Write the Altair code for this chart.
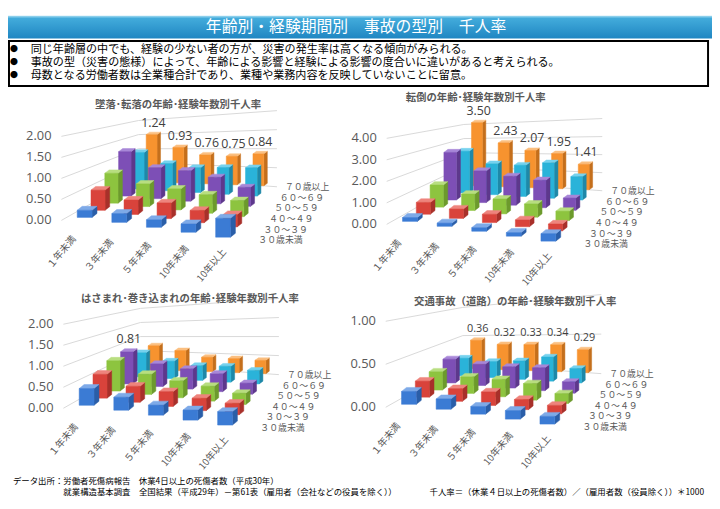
import altair as alt
import pandas as pd

# ---------------- data ----------------
EXPERIENCE = ["１年未満", "３年未満", "５年未満", "10年未満", "10年以上"]
AGES = ["３０歳未満", "３０～３９", "４０～４９", "５０～５９", "６０～６９", "７０歳以上"]
TITLES = [
    "墜落･転落の年齢･経験年数別千人率",
    "転倒の年齢･経験年数別千人率",
    "はさまれ･巻き込まれの年齢･経験年数別千人率",
    "交通事故（道路）の年齢･経験年数別千人率",
]

# rows = age groups (30歳未満 ... 70歳以上), columns = experience
FALL = [
    [0.17, 0.21, 0.18, 0.20, 0.45],
    [0.49, 0.35, 0.38, 0.30, 0.30],
    [0.74, 0.56, 0.52, 0.46, 0.40],
    [1.12, 0.78, 0.77, 0.67, 0.48],
    [0.94, 0.70, 0.64, 0.69, 0.73],
    [1.24, 0.93, 0.76, 0.75, 0.84],
]
TUMBLE = [
    [0.18, 0.15, 0.17, 0.17, 0.35],
    [0.57, 0.45, 0.40, 0.33, 0.33],
    [1.10, 0.82, 0.74, 0.66, 0.47],
    [2.45, 1.63, 1.49, 1.42, 0.63],
    [2.23, 1.65, 1.67, 1.89, 1.25],
    [3.50, 2.43, 2.07, 1.95, 1.41],
]
CAUGHT = [
    [0.40, 0.31, 0.24, 0.24, 0.32],
    [0.58, 0.39, 0.36, 0.30, 0.28],
    [0.75, 0.50, 0.42, 0.37, 0.28],
    [0.81, 0.57, 0.51, 0.45, 0.28],
    [0.62, 0.45, 0.38, 0.41, 0.35],
    [0.63, 0.53, 0.38, 0.37, 0.35],
]
TRAFFIC = [
    [0.15, 0.12, 0.09, 0.10, 0.09],
    [0.19, 0.15, 0.16, 0.12, 0.10],
    [0.22, 0.20, 0.21, 0.20, 0.12],
    [0.29, 0.26, 0.26, 0.28, 0.14],
    [0.22, 0.20, 0.23, 0.30, 0.18],
    [0.36, 0.32, 0.33, 0.34, 0.29],
]
PANELS = [FALL, TUMBLE, CAUGHT, TRAFFIC]
AXIS_MAX = [2, 4, 2, 1]
TICKS = [[0, 0.5, 1, 1.5, 2], [0, 1, 2, 3, 4], [0, 0.5, 1, 1.5, 2], [0, 0.5, 1]]
LABEL_AGE = [5, 5, 3, 5]
LABEL_EXP = [[0, 1, 2, 3, 4], [0, 1, 2, 3, 4], [0], [0, 1, 2, 3, 4]]

BULLETS = [
    "同じ年齢層の中でも、経験の少ない者の方が、災害の発生率は高くなる傾向がみられる。",
    "事故の型（災害の態様）によって、年齢による影響と経験による影響の度合いに違いがあると考えられる。",
    "母数となる労働者数は全業種合計であり、業種や業務内容を反映していないことに留意。",
]
MAIN_TITLE = "年齢別・経験期間別　事故の型別　千人率"
SOURCE1 = "データ出所：労働者死傷病報告　休業4日以上の死傷者数（平成30年）"
SOURCE2 = "就業構造基本調査　全国結果（平成29年）－第61表（雇用者（会社などの役員を除く））"
FORMULA = "千人率＝（休業４日以上の死傷者数）／（雇用者数（役員除く））＊1000"

rows = []
for p, table in enumerate(PANELS):
    for j, series in enumerate(table):
        for i, v in enumerate(series):
            rows.append(dict(panel=p, i=i, j=j, value=v, exp=EXPERIENCE[i], age=AGES[j],
                             lab=int(j == LABEL_AGE[p] and i in LABEL_EXP[p])))
bars = pd.DataFrame(rows)
ticks = pd.DataFrame([dict(panel=p, v=v) for p, tl in enumerate(TICKS) for v in tl])

# ---------------- layout / style ----------------
OX = [0, 329, 2, 328]
OY = [0, 4, 190, 189]
FRONT_H = [85, 87, 85, 87]
BACK_H = [77, 73, 77, 80]
FRONT = ["#3b7bd4", "#d9433b", "#8dc43f", "#7d4fb6", "#2ab3d9", "#f7932f"]
TOP = ["#7eaae8", "#ee847d", "#b8de80", "#a887d8", "#76d2ee", "#fbbf80"]
SIDE = ["#2a5ea8", "#a8302a", "#6c9a2c", "#5d388c", "#1e88a8", "#c46f1c"]
CJK = "Noto Sans CJK JP"
NUM = "Open Sans"

XS = alt.Scale(domain=[8, 720], nice=False, zero=False)
YS = alt.Scale(domain=[8, 501], nice=False, zero=False, reverse=True)


def X(f):
    return alt.X(f"{f}:Q", scale=XS, axis=None)


def Y(f):
    return alt.Y(f"{f}:Q", scale=YS, axis=None)


def pick(vals):
    s = str(vals[-1])
    for k in range(len(vals) - 2, -1, -1):
        s = f"(datum.panel=={k}?{vals[k]}:{s})"
    return s


geo = alt.Chart(bars).transform_calculate(
    u="datum.i/4",
    w="datum.j/5",
).transform_calculate(
    cx=f"{pick(OX)}+(88+140*datum.u)*(1-datum.w)+(155+108*datum.u)*datum.w",
    by=f"{pick(OY)}+(217+20*datum.u)*(1-datum.w)+(181+4*datum.u)*datum.w",
    h=f"datum.value*({pick(FRONT_H)}*(1-datum.w)+{pick(BACK_H)}*datum.w)/{pick(AXIS_MAX)}",
    fw="15*(1-datum.w)+11*datum.w",
    ddx="5*(1-datum.w)+3.5*datum.w",
    ddy="4*(1-datum.w)+2.5*datum.w",
).transform_calculate(
    xl="datum.cx-datum.fw/2-datum.ddx/2",
).transform_calculate(
    xr="datum.xl+datum.fw",
    yt="datum.by-datum.h",
)

layers = []

# gridlines (perspective walls)
grid = alt.Chart(ticks).transform_calculate(
    f=f"datum.v/{pick(AXIS_MAX)}",
    kk="[0,1,2]",
).transform_flatten(["kk"]).transform_calculate(
    gx=f"{pick(OX)}+(datum.kk==0?62:(datum.kk==1?140:280))",
    gy=f"{pick(OY)}+(datum.kk==0?220-{pick(FRONT_H)}*datum.f:(datum.kk==1?176-57*datum.f:186-{pick(BACK_H)}*datum.f))",
).mark_line(color="#d9d9d9", strokeWidth=1).encode(
    x=X("gx"), y=Y("gy"), detail=["panel:N", "v:Q"], order="kk:Q"
)
layers.append(grid)

ticklab = alt.Chart(ticks).transform_calculate(
    f=f"datum.v/{pick(AXIS_MAX)}",
).transform_calculate(
    tx=f"{pick(OX)}+52",
    ty=f"{pick(OY)}+220-{pick(FRONT_H)}*datum.f",
).mark_text(align="right", baseline="middle", font=NUM, fontSize=13, color="#595959").encode(
    x=X("tx"), y=Y("ty"), text=alt.Text("v:Q", format=".2f")
)
layers.append(ticklab)

# bars, back row first
for j in range(5, -1, -1):
    row = geo.transform_filter(f"datum.j=={j}")
    side = row.transform_calculate(kk="[0,1]").transform_flatten(["kk"]).transform_calculate(
        xs="datum.xr+datum.ddx*datum.kk",
        ys1="datum.yt-datum.ddy*datum.kk",
        ys2="datum.by-datum.ddy*datum.kk",
    ).mark_area(orient="vertical", color=SIDE[j], stroke=SIDE[j], strokeWidth=0.5).encode(
        x=X("xs"), y=Y("ys1"), y2="ys2:Q", detail=["panel:N", "i:N"]
    )
    top = row.transform_calculate(kk="[0,1]").transform_flatten(["kk"]).transform_calculate(
        ya="datum.yt-datum.ddy*datum.kk",
        xa="datum.xl+datum.ddx*datum.kk",
        xb="datum.xr+datum.ddx*datum.kk",
    ).mark_area(orient="horizontal", color=TOP[j], stroke=TOP[j], strokeWidth=0.5).encode(
        y=Y("ya"), x=X("xa"), x2="xb:Q", detail=["panel:N", "i:N"]
    )
    front = row.mark_rect(color=FRONT[j], stroke=FRONT[j], strokeWidth=0.5).encode(
        x=X("xl"), x2="xr:Q", y=Y("yt"), y2="by:Q"
    )
    layers += [side, top, front]

# data labels
labels = geo.transform_filter("datum.lab==1").transform_calculate(
    fs="datum.panel==3?11:12.5",
).transform_calculate(
    lx="datum.xl+datum.fw/2+datum.ddx/2",
    ly="datum.yt-datum.ddy-(datum.panel==3?9:9.5)",
).mark_text(font=NUM, color="#404040", baseline="middle").encode(
    x=X("lx"), y=Y("ly"), text=alt.Text("value:Q", format=".2f"),
    size=alt.Size("fs:Q", scale=None),
)
layers.append(labels)

# experience (category) labels along the front edge
catlab = geo.transform_filter("datum.j==0").transform_calculate(
    tx="datum.cx-13+12*datum.u",
    ty="datum.by+20-7*datum.u",
).mark_text(angle=310, align="right", baseline="middle", font=CJK, fontSize=9.8, color="#595959").encode(
    x=X("tx"), y=Y("ty"), text="exp:N"
)
layers.append(catlab)

# age (series) labels on the right
agelab = geo.transform_filter("datum.i==4").transform_calculate(
    ax=f"{pick(OX)}+306*(1-datum.w)+333*datum.w",
    ay=f"{pick(OY)}+240*(1-datum.w)+186.5*datum.w",
).mark_text(align="right", baseline="middle", font=CJK, fontSize=9, color="#595959").encode(
    x=X("ax"), y=Y("ay"), text="age:N"
)
layers.append(agelab)

one = alt.Data(values=[{"k": 0}])


def px(v):
    return alt.value(v - 8)


# banner
banner = alt.Chart(one).mark_rect(
    fill={"gradient": "linear", "x1": 0, "y1": 0, "x2": 0, "y2": 1,
          "stops": [{"offset": 0, "color": "#a8ddf2"}, {"offset": 0.12, "color": "#42abdb"},
                    {"offset": 1, "color": "#1f86c2"}]}
).encode(x=px(8), x2=px(720), y=px(13), y2=px(36))
layers.append(banner)
layers.append(alt.Chart(one).mark_text(text=MAIN_TITLE, font=CJK, fontSize=16, color="white",
                                       align="center", baseline="middle").encode(x=px(360), y=px(24.5)))

# note box
layers.append(alt.Chart(one).mark_rect(fill="white", stroke="black", strokeWidth=2).encode(
    x=px(9), x2=px(716), y=px(38.5), y2=px(84)))
for k, line in enumerate(BULLETS):
    yy = 47.5 + 13.3 * k
    layers.append(alt.Chart(one).mark_text(text="●", font=CJK, fontSize=8, color="black",
                                           align="center", baseline="middle").encode(x=px(14), y=px(yy)))
    layers.append(alt.Chart(one).mark_text(text=line, font=CJK, fontSize=11.2, color="black",
                                           align="left", baseline="middle").encode(x=px(31), y=px(yy)))

# panel titles
TITLE_POS = [(180, 103), (481, 96), (192, 300), (521, 303)]
for t, (tx, ty) in zip(TITLES, TITLE_POS):
    layers.append(alt.Chart(one).mark_text(text=t, font=CJK, fontSize=10.5, fontWeight="bold",
                                           color="#595959", align="center", baseline="middle").encode(
        x=px(tx), y=px(ty)))

# footer
layers.append(alt.Chart(one).mark_text(text=SOURCE1, font=CJK, fontSize=8.5, color="black",
                                       align="left", baseline="middle").encode(x=px(13), y=px(484)))
layers.append(alt.Chart(one).mark_text(text=SOURCE2, font=CJK, fontSize=8.5, color="black",
                                       align="left", baseline="middle").encode(x=px(64), y=px(495)))
layers.append(alt.Chart(one).mark_text(text=FORMULA, font=CJK, fontSize=8.5, color="black",
                                       align="right", baseline="middle").encode(x=px(712), y=px(495)))

chart = alt.layer(*layers).properties(
    width=712, height=493, padding=0, autosize=alt.AutoSizeParams(type="none")
).configure_view(stroke=None)

chart.save("out.html", embed_options={"renderer": "svg", "actions": False})
